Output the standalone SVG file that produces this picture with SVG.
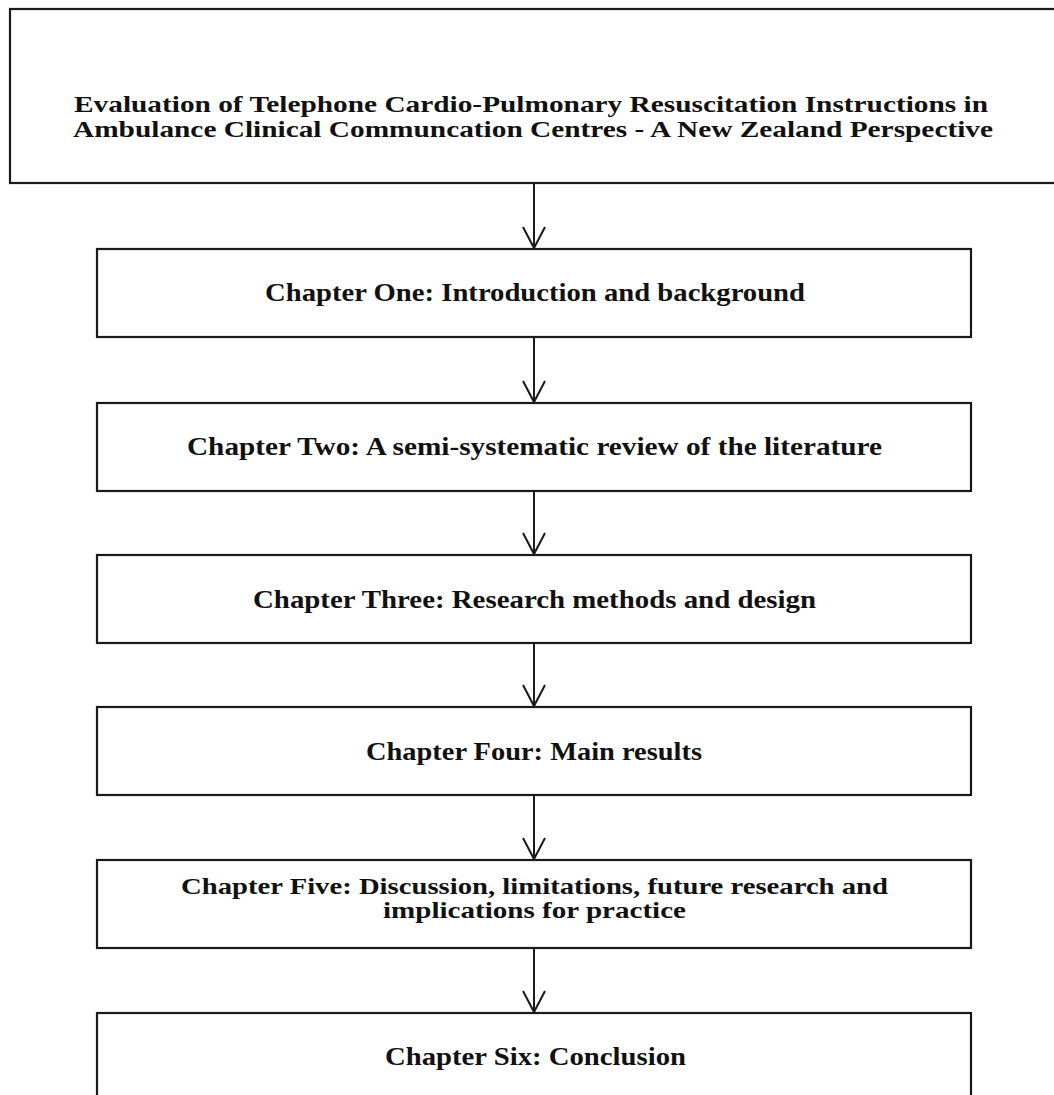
<svg xmlns="http://www.w3.org/2000/svg" width="1054" height="1095" viewBox="0 0 1054 1095">
<defs>
<style>
.box{fill:#fff;stroke:#1a1a1a;stroke-width:2.2}
.t{font-family:"Liberation Serif","Times New Roman",serif;font-weight:bold;fill:#111;text-anchor:middle}
.title{font-size:24px}
.ch{font-size:25px}
.ch5{font-size:23px}
.conn line,.conn path{stroke:#1a1a1a;stroke-width:2;fill:none}
</style>
</defs>
<rect width="1054" height="1095" fill="#fff"/>
<g id="title">
<rect class="box" x="10" y="9" width="1060" height="174"/>
<text class="t title" x="531" y="112" textLength="914" lengthAdjust="spacingAndGlyphs">Evaluation of Telephone Cardio-Pulmonary Resuscitation Instructions in</text>
<text class="t title" x="533" y="137" textLength="920" lengthAdjust="spacingAndGlyphs">Ambulance Clinical Communcation Centres - A New Zealand Perspective</text>
</g>
<g id="ch1">
<rect class="box" x="97" y="249" width="874" height="88"/>
<text class="t ch" x="535" y="301" textLength="540" lengthAdjust="spacingAndGlyphs">Chapter One: Introduction and background</text>
</g>
<g id="ch2">
<rect class="box" x="97" y="403" width="874" height="88"/>
<text class="t ch" x="534.5" y="455" textLength="695" lengthAdjust="spacingAndGlyphs">Chapter Two: A semi-systematic review of the literature</text>
</g>
<g id="ch3">
<rect class="box" x="97" y="555" width="874" height="88"/>
<text class="t ch" x="534.5" y="608" textLength="563" lengthAdjust="spacingAndGlyphs">Chapter Three: Research methods and design</text>
</g>
<g id="ch4">
<rect class="box" x="97" y="707" width="874" height="88"/>
<text class="t ch" x="534" y="760" textLength="336" lengthAdjust="spacingAndGlyphs">Chapter Four: Main results</text>
</g>
<g id="ch5">
<rect class="box" x="97" y="860" width="874" height="88"/>
<text class="t ch5" x="534.5" y="894" textLength="707" lengthAdjust="spacingAndGlyphs">Chapter Five: Discussion, limitations, future research and</text>
<text class="t ch5" x="534.5" y="918" textLength="303" lengthAdjust="spacingAndGlyphs">implications for practice</text>
</g>
<g id="ch6">
<rect class="box" x="97" y="1013" width="874" height="100"/>
<text class="t ch" x="535.5" y="1065" textLength="301" lengthAdjust="spacingAndGlyphs">Chapter Six: Conclusion</text>
</g>
<g id="connectors" class="conn">
<line x1="534" y1="184" x2="534" y2="248"/><path d="M523,227 L534,248 L545,227"/>
<line x1="534" y1="338" x2="534" y2="402"/><path d="M523,381 L534,402 L545,381"/>
<line x1="534" y1="492" x2="534" y2="554"/><path d="M523,533 L534,554 L545,533"/>
<line x1="534" y1="644" x2="534" y2="706"/><path d="M523,685 L534,706 L545,685"/>
<line x1="534" y1="796" x2="534" y2="859"/><path d="M523,838 L534,859 L545,838"/>
<line x1="534" y1="949" x2="534" y2="1012"/><path d="M523,991 L534,1012 L545,991"/>
</g>
</svg>
